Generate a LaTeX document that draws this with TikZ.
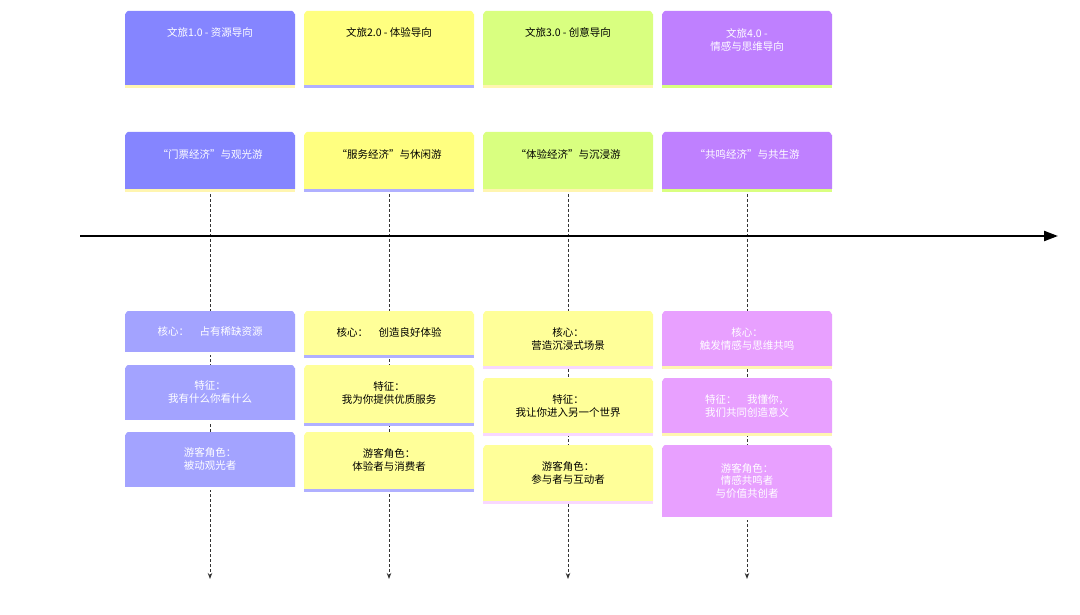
\documentclass[tikz,border=0pt]{standalone}
\usepackage{fontspec}
\setmainfont{Noto Sans CJK SC}
\usetikzlibrary{arrows.meta}
\definecolor{cb}{HTML}{8585FF}\definecolor{cy}{HTML}{FFFF80}\definecolor{cg}{HTML}{D9FF80}\definecolor{cp}{HTML}{BF80FF}
\definecolor{lb}{HTML}{A3A3FF}\definecolor{ly}{HTML}{FFFF99}\definecolor{lp}{HTML}{E8A0FF}
\definecolor{sy}{HTML}{FFF5B0}\definecolor{sb}{HTML}{B0B0FF}\definecolor{sp}{HTML}{F8D8FF}
\begin{document}
\begin{tikzpicture}[x=1pt,y=-1pt,
 txt/.style={align=center,font=\fontsize{10.5}{12.5}\selectfont},
 dl/.style={densely dashed,line width=1pt,-{Stealth[length=6pt]},black!80}]
\useasboundingbox (0,0) rectangle (1080,615);
% box macro: x0 y0 y1 fill strip textcolor text texty
\newcommand\bx[9]{%
 \fill[#5] (#1,#3) -- (#1,#2+3) to[out=-90,in=180] (#1+3,#2) -- (#1+167,#2) to[out=0,in=-90] (#1+170,#2+3) -- (#1+170,#3) -- cycle;
 \fill[#6] (#1,#3) rectangle (#1+170,#3+3);
 \node[txt,text=#7] (#9) at (#1+85,#8) {#4};}
% dashed lines
\foreach \x/\n in {210/a,389/b,568/c,747/d}{
 \coordinate (t\n) at (\x,189); \coordinate (e\n) at (\x,579);
 \draw[dl] (t\n) -- (e\n);}
\coordinate (l0) at (80,236); \coordinate (l1) at (1058,236);
\draw[line width=2.2pt,-{Triangle[length=14pt,width=10pt]}] (l0) -- (l1);
% headers
\bx{125}{11}{85}{文旅1.0 - 资源导向}{cb}{sy}{white}{32}{h1}
\bx{304}{11}{85}{文旅2.0 - 体验导向}{cy}{sb}{black}{32}{h2}
\bx{483}{11}{85}{文旅3.0 - 创意导向}{cg}{sy}{black}{32}{h3}
\bx{662}{11}{85}{文旅4.0 -\\情感与思维导向}{cp}{cg}{white}{40}{h4}
\bx{125}{132}{189}{“门票经济”与观光游}{cb}{sy}{white}{154}{m1}
\bx{304}{132}{189}{“服务经济”与休闲游}{cy}{sb}{black}{154}{m2}
\bx{483}{132}{189}{“体验经济”与沉浸游}{cg}{sy}{black}{154}{m3}
\bx{662}{132}{189}{“共鸣经济”与共生游}{cp}{cg}{white}{154}{m4}
% lower col1
\bx{125}{311}{352}{核心：\quad 占有稀缺资源}{lb}{white}{white}{331}{a1}
\bx{125}{365}{420}{特征：\\我有什么你看什么}{lb}{white}{white}{392}{a2}
\bx{125}{432}{487}{游客角色：\\被动观光者}{lb}{white}{white}{459}{a3}
% col2
\bx{304}{311}{355}{核心：\quad 创造良好体验}{ly}{sb}{black}{332}{b1}
\bx{304}{365}{423}{特征：\\我为你提供优质服务}{ly}{sb}{black}{393}{b2}
\bx{304}{432}{489}{游客角色：\\体验者与消费者}{ly}{sb}{black}{460}{b3}
% col3
\bx{483}{311}{366}{核心：\\营造沉浸式场景}{ly}{sp}{black}{339}{c1}
\bx{483}{378}{433}{特征：\\我让你进入另一个世界}{ly}{sp}{black}{406}{c2}
\bx{483}{445}{501}{游客角色：\\参与者与互动者}{ly}{sp}{black}{473}{c3}
% col4
\bx{662}{311}{366}{核心：\\触发情感与思维共鸣}{lp}{sy}{white}{339}{d1}
\bx{662}{378}{433}{特征：\quad 我懂你，\\我们共同创造意义}{lp}{sy}{white}{406}{d2}
\bx{662}{445}{517}{游客角色：\\情感共鸣者\\与价值共创者}{lp}{white}{white}{481}{d3}
\end{tikzpicture}
\end{document}
